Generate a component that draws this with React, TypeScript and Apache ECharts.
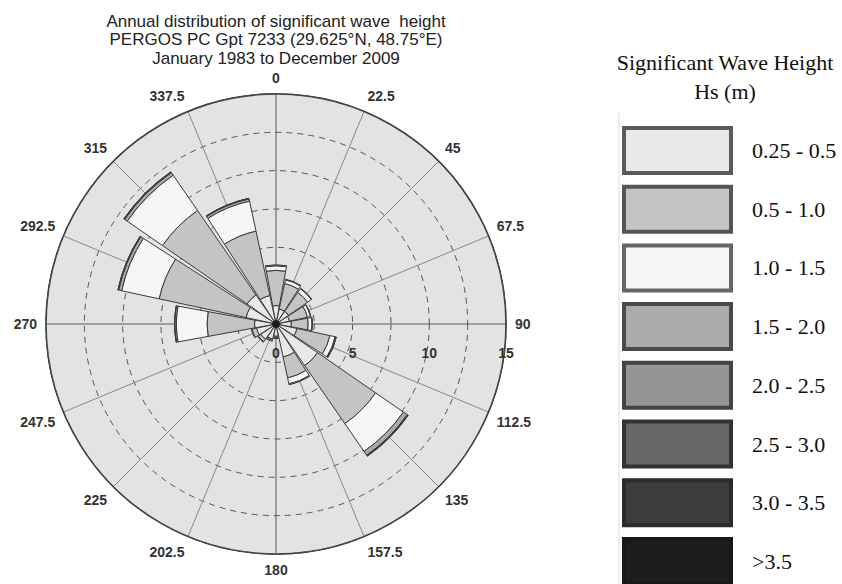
import React, { useEffect, useRef } from "react";
import * as echarts from "echarts";

// Directions (deg, direction FROM), clockwise from North
const directions = ["0", "22.5", "45", "67.5", "90", "112.5", "135", "157.5", "180", "202.5", "225", "247.5", "270", "292.5", "315", "337.5"];

// Wave-height bins (legend order)
const bins = ["0.25 - 0.5", "0.5 - 1.0", "1.0 - 1.5", "1.5 - 2.0", "2.0 - 2.5", "2.5 - 3.0", "3.0 - 3.5", ">3.5"];

// Frequency (%) per direction for each bin
const hs025_05 = [1.2, 1.0, 1.0, 0.9, 1.0, 1.4, 3.3, 2.2, 0.8, 1.0, 1.2, 1.3, 1.4, 2.0, 2.3, 1.9];
const hs05_10 = [2.3, 1.7, 1.5, 1.2, 1.1, 2.2, 4.6, 1.4, 0.1, 0.1, 0.2, 0.3, 3.1, 5.8, 6.7, 4.3];
const hs10_15 = [0.3, 0.25, 0.3, 0.2, 0.25, 0.35, 2.2, 0.4, 0.05, 0.05, 0.05, 0.05, 2.0, 2.5, 2.8, 2.0];
const hs15_20 = [0.06, 0.04, 0.04, 0.03, 0.04, 0.06, 0.3, 0.06, 0, 0, 0, 0, 0.1, 0.2, 0.2, 0.15];
const hs20_25 = [0, 0, 0, 0, 0, 0.02, 0.06, 0, 0, 0, 0, 0, 0.02, 0.04, 0.05, 0.03];
const hs25_30 = [0, 0, 0, 0, 0, 0, 0.02, 0, 0, 0, 0, 0, 0, 0.01, 0.02, 0.01];
const hs30_35 = [0, 0, 0, 0, 0, 0, 0, 0, 0, 0, 0, 0, 0, 0, 0, 0];
const hs35 = [0, 0, 0, 0, 0, 0, 0, 0, 0, 0, 0, 0, 0, 0, 0, 0];

const binValues = [hs025_05, hs05_10, hs10_15, hs15_20, hs20_25, hs25_30, hs30_35, hs35];

// Radial scale (%)
const radiusMin = 0;
const radiusMax = 15;
const radiusLabelStep = 5;
const radiusDashStep = 2.5;
const angleStep = 22.5;
const centerPoint = [[0, 0]];

const fillColors = ["#e9e9e9", "#c4c4c4", "#f6f6f6", "#ababab", "#959595", "#676767", "#3d3d3d", "#1d1d1d"];
const legendBorders = ["#5a5a5a", "#555555", "#666666", "#4a4a4a", "#444444", "#333333", "#2b2b2b", "#181818"];

const CX = 276;
const CY = 324;
const R = 230;

export default function App() {
  const ref = useRef<HTMLDivElement>(null);

  useEffect(() => {
    if (!ref.current) return;
    const chart = echarts.init(ref.current, undefined, { renderer: "svg" });

    const barSeries = bins.map((name, i) => ({
      name,
      type: "bar",
      coordinateSystem: "polar",
      polarIndex: 1,
      stack: "hs",
      barCategoryGap: "8%",
      data: binValues[i].map((v) => (v > 0 ? v : null)),
      itemStyle: { color: fillColors[i], borderColor: "#3a3a3a", borderWidth: 1 },
      emphasis: { disabled: true },
      z: 3,
    }));

    const option: any = {
      animation: false,
      backgroundColor: "#ffffff",
      title: [
        {
          text: "Annual distribution of significant wave  height\nPERGOS PC Gpt 7233 (29.625°N, 48.75°E)\nJanuary 1983 to December 2009",
          left: CX,
          top: 12,
          textAlign: "center",
          padding: 0,
          textStyle: { fontFamily: "Liberation Sans, Arial", fontSize: 17, fontWeight: "normal", color: "#222", lineHeight: 18.5 },
        },
        {
          text: "Significant Wave Height\nHs (m)",
          left: 725,
          top: 48,
          textAlign: "center",
          padding: 0,
          textStyle: { fontFamily: "Liberation Serif, Times New Roman", fontSize: 22, fontWeight: "normal", color: "#111", lineHeight: 29 },
        },
      ],
      legend: {
        orient: "vertical",
        left: 622,
        top: 126,
        height: 480,
        padding: 0,
        itemWidth: 107,
        itemHeight: 45,
        itemGap: 9.7,
        selectedMode: false,
        icon: "rect",
        data: bins.map((name, i) => ({
          name,
          icon: "rect",
          itemStyle: { color: fillColors[i], borderColor: legendBorders[i], borderWidth: 4 },
        })),
        textStyle: { fontFamily: "Liberation Serif, Times New Roman", fontSize: 22, color: "#111", padding: [0, 0, 0, 16] },
      },
      polar: [
        { center: [CX, CY], radius: R },
        { center: [CX, CY], radius: R },
        { center: [CX, CY], radius: R },
      ],
      angleAxis: [
        {
          polarIndex: 0,
          type: "value",
          min: 0,
          max: 360,
          interval: angleStep,
          startAngle: 90,
          clockwise: true,
          axisLine: { show: true, lineStyle: { color: "#444", width: 1.6 } },
          axisTick: { show: false },
          axisLabel: {
            margin: 9,
            fontFamily: "Liberation Sans, Arial",
            fontSize: 14,
            fontWeight: "bold",
            color: "#333",
            formatter: (v: number) => (v >= 360 ? "" : String(v)),
          },
          splitLine: { show: true, lineStyle: { color: ["#5a5a5a", "#888", "#888", "#888"], width: 1 } },
        },
        {
          polarIndex: 1,
          type: "category",
          data: directions,
          startAngle: 90 + angleStep / 2,
          clockwise: true,
          axisLine: { show: false },
          axisTick: { show: false },
          axisLabel: { show: false },
          splitLine: { show: false },
        },
        {
          polarIndex: 2,
          type: "value",
          min: 0,
          max: 360,
          startAngle: 0,
          axisLine: { show: false },
          axisTick: { show: false },
          axisLabel: { show: false },
          splitLine: { show: false },
        },
      ],
      radiusAxis: [
        {
          polarIndex: 0,
          type: "value",
          min: radiusMin,
          max: radiusMax,
          interval: radiusLabelStep,
          axisLine: { show: false },
          axisTick: { show: false },
          axisLabel: { show: false },
          splitLine: { show: true, lineStyle: { color: "#555", width: 1.3 } },
          splitArea: { show: true, areaStyle: { color: ["#e3e3e3"] } },
        },
        {
          polarIndex: 1,
          type: "value",
          min: radiusMin,
          max: radiusMax,
          interval: radiusDashStep,
          axisLine: { show: false },
          axisTick: { show: false },
          axisLabel: { show: false },
          splitLine: { show: true, lineStyle: { color: "#555", width: 1, type: [6, 5] } },
        },
        {
          polarIndex: 2,
          type: "value",
          min: radiusMin,
          max: radiusMax,
          interval: radiusLabelStep,
          axisLine: { show: false },
          axisTick: { show: false },
          splitLine: { show: false },
          axisLabel: {
            show: true,
            margin: -29,
            verticalAlign: "middle",
            align: "center",
            fontFamily: "Liberation Sans, Arial",
            fontSize: 14,
            fontWeight: "bold",
            color: "#333",
          },
        },
      ],
      series: [
        ...barSeries,
        {
          name: "center",
          type: "scatter",
          coordinateSystem: "polar",
          polarIndex: 1,
          data: centerPoint,
          symbolSize: 8,
          itemStyle: { color: "#111" },
          silent: true,
          z: 5,
        },
      ],
      graphic: [
        {
          type: "line",
          shape: { x1: 619, y1: 112, x2: 619, y2: 584 },
          style: { stroke: "#dddddd", lineWidth: 1 },
          silent: true,
        },
        {
          type: "group",
          left: 280,
          top: 182,
          z: 10,
          children: [
            {
              type: "rect",
              shape: { x: 0, y: 0, width: 161, height: 45 },
              style: { fill: "#ffffff", stroke: "#555", lineWidth: 1.5 },
            },
            {
              type: "text",
              x: 7,
              y: 9,
              style: {
                text: "Calms are not included\nDirection  FROM is shown",
                fontFamily: "Liberation Sans, Arial",
                fontSize: 12.5,
                lineHeight: 13,
                fill: "#333",
              },
            },
          ],
        },
      ],
    };

    chart.setOption(option);
    return () => chart.dispose();
  }, []);

  return <div ref={ref} style={{ position: "fixed", left: 0, top: 0, width: 842, height: 584 }} />;
}
